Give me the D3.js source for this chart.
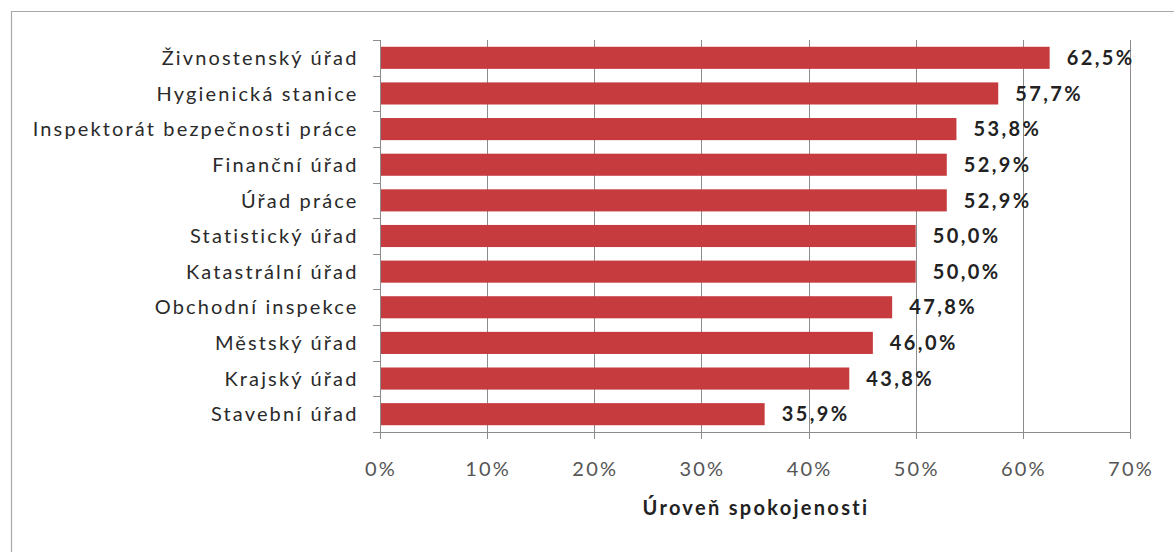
<!DOCTYPE html>
<html><head><meta charset="utf-8">
<script src="https://cdn.jsdelivr.net/npm/d3@7"></script>
<style>
html,body{margin:0;padding:0;background:#fff;}
svg{display:block;}
</style></head>
<body>
<svg id="chart" width="1174" height="552"></svg>
<script>
const categories = ["Živnostenský úřad","Hygienická stanice","Inspektorát bezpečnosti práce","Finanční úřad","Úřad práce","Statistický úřad","Katastrální úřad","Obchodní inspekce","Městský úřad","Krajský úřad","Stavební úřad"];
const values = [0.625,0.577,0.538,0.529,0.529,0.500,0.500,0.478,0.460,0.438,0.359];
const valueLabels = ["62,5%","57,7%","53,8%","52,9%","52,9%","50,0%","50,0%","47,8%","46,0%","43,8%","35,9%"];
const xTicks = [0,0.1,0.2,0.3,0.4,0.5,0.6,0.7];
const xTickLabels = ["0%","10%","20%","30%","40%","50%","60%","70%"];
const axisTitle = "Úroveň spokojenosti";

const svg = d3.select("#chart");
const pLeft = 380, pRight = 1130, pTop = 40, pBottom = 432;
const x = d3.scaleLinear().domain([0,0.7]).range([pLeft,pRight]);
const y = d3.scaleBand().domain(categories).range([pTop,pBottom]).paddingInner(0.38).paddingOuter(0.19);
const font = "Lato, 'Open Sans', sans-serif";
const gridColor = "#8c8c8c";

// frame
svg.append("path").attr("d","M11.5,552 V11.5 H1174").attr("fill","none").attr("stroke","#a8a8a8").attr("stroke-width",1.2);

// gridlines + ticks
svg.append("g").selectAll("line").data(xTicks).join("line")
  .attr("x1",d=>Math.round(x(d))+0.5).attr("x2",d=>Math.round(x(d))+0.5)
  .attr("y1",pTop).attr("y2",pBottom+7)
  .attr("stroke",gridColor).attr("stroke-width",1);

// x axis line
svg.append("line").attr("x1",pLeft-7).attr("x2",pRight+0.5).attr("y1",pBottom+0.5).attr("y2",pBottom+0.5).attr("stroke",gridColor);

// y axis ticks at category boundaries
const boundaries = d3.range(categories.length+1).map(i=>pTop + i*(pBottom-pTop)/categories.length);
svg.append("g").selectAll("line").data(boundaries).join("line")
  .attr("x1",pLeft-7).attr("x2",pLeft).attr("y1",d=>Math.round(d)+0.5).attr("y2",d=>Math.round(d)+0.5)
  .attr("stroke",gridColor);

// bars
svg.append("g").selectAll("rect").data(values).join("rect")
  .attr("x",x(0)+1).attr("y",(d,i)=>y(categories[i]))
  .attr("width",d=>x(d)-x(0)-1).attr("height",y.bandwidth())
  .attr("fill","#c63b3e");

// value labels
svg.append("g").selectAll("text").data(values).join("text")
  .attr("x",d=>x(d)+17).attr("y",(d,i)=>y(categories[i])+y.bandwidth()/2)
  .attr("dy","0.36em")
  .attr("font-family",font).attr("font-weight","bold").attr("font-size",20)
  .attr("letter-spacing","2.4px")
  .attr("fill","#222").text((d,i)=>valueLabels[i]);

// category labels
svg.append("g").selectAll("text").data(categories).join("text")
  .attr("x",358.5).attr("y",d=>y(d)+y.bandwidth()/2)
  .attr("dy","0.36em").attr("text-anchor","end")
  .attr("font-family",font).attr("font-size",20).attr("letter-spacing","2.15px")
  .attr("fill","#2a2a2a").text(d=>d);

// x tick labels
svg.append("g").selectAll("text").data(xTicks).join("text")
  .attr("x",d=>x(d)+1).attr("y",469).attr("dy","0.36em").attr("text-anchor","middle")
  .attr("font-family",font).attr("font-size",20).attr("letter-spacing","2.2px")
  .attr("fill","#555").text((d,i)=>xTickLabels[i]);

// axis title
svg.append("text").attr("x",(pLeft+pRight)/2+1).attr("y",508).attr("dy","0.36em").attr("text-anchor","middle")
  .attr("font-family",font).attr("font-weight","bold").attr("font-size",20).attr("letter-spacing","2.3px")
  .attr("fill","#222").text(axisTitle);
</script>
</body></html>
